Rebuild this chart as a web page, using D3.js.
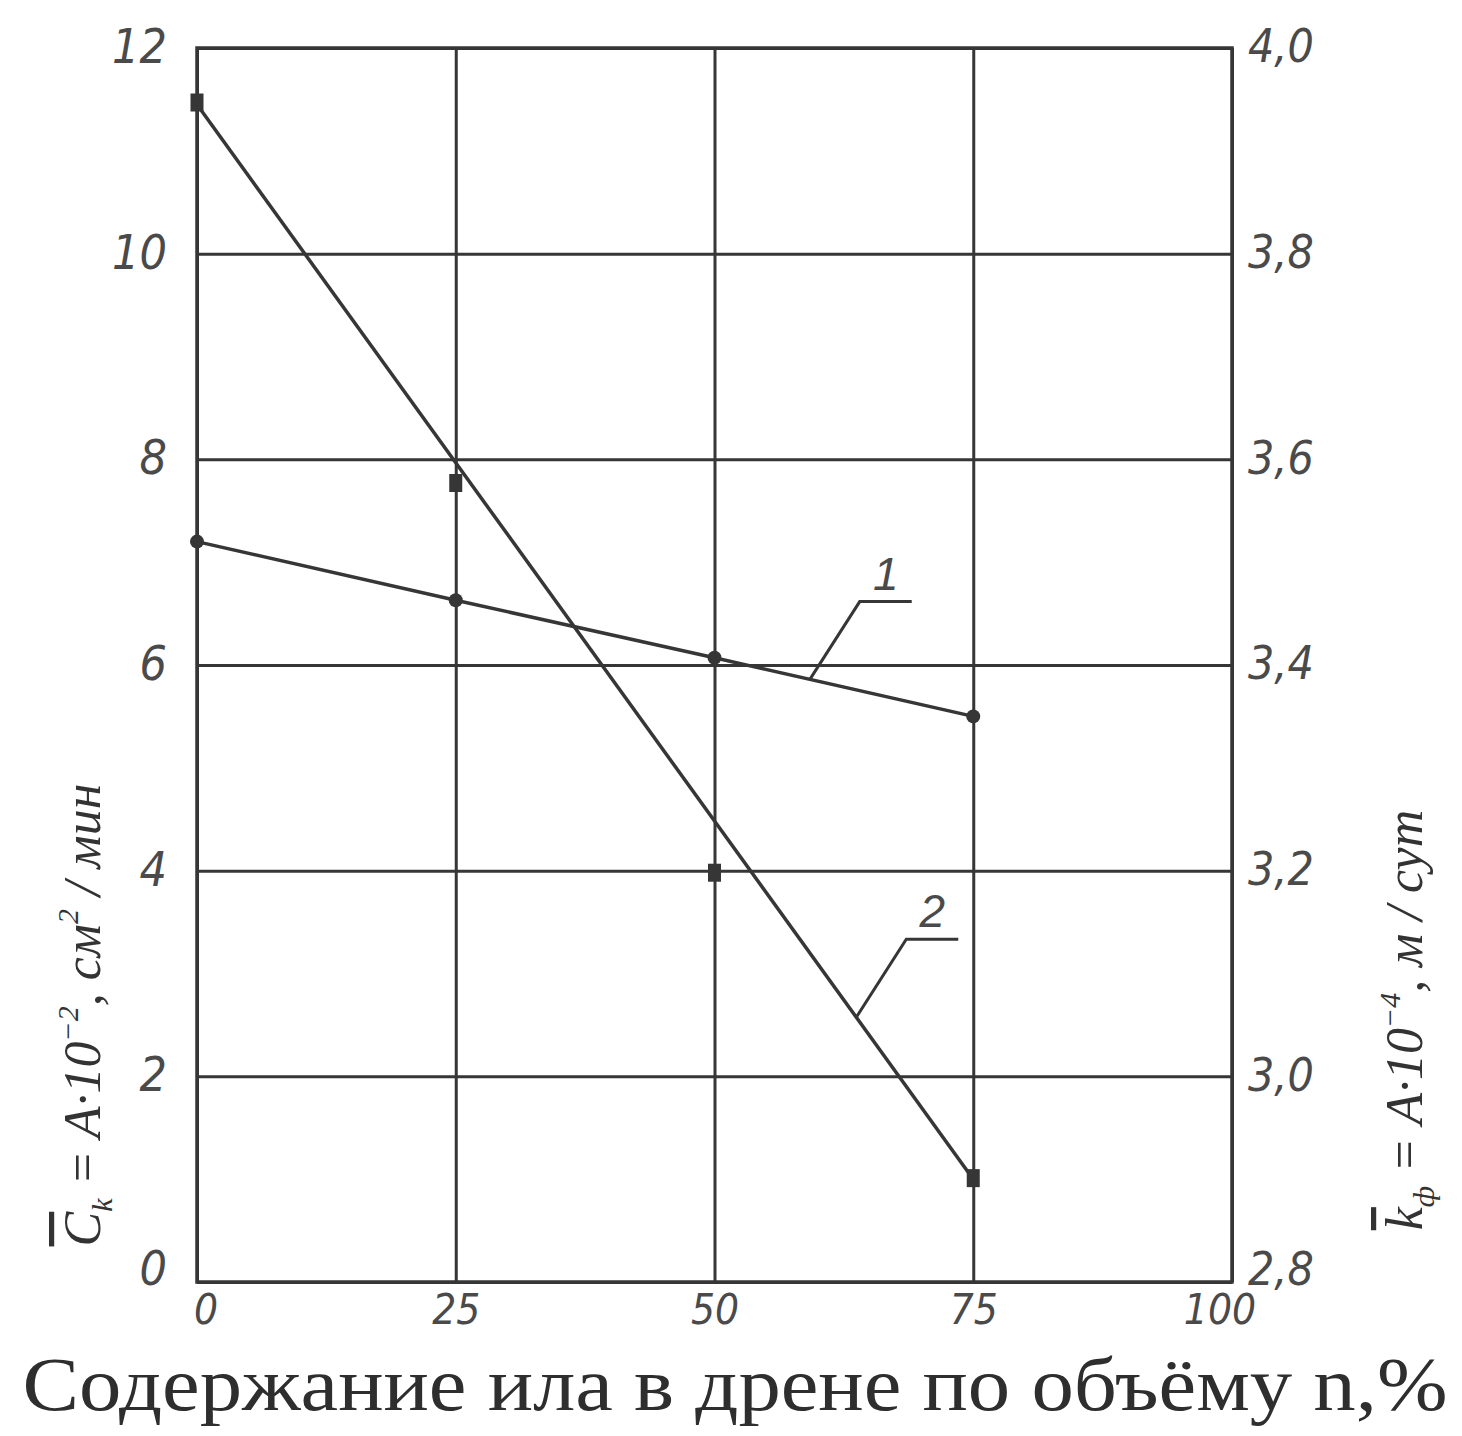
<!DOCTYPE html>
<html>
<head>
<meta charset="utf-8">
<script src="https://cdn.jsdelivr.net/npm/d3@7"></script>
<style>
  body { margin: 0; background: #fff; }
  .tick text { font-family: "Liberation Sans Narrow", "DejaVu Sans Condensed", sans-serif; font-style: italic; fill: #4a4a4a; }
</style>
</head>
<body>
<svg id="chart" width="1462" height="1436"></svg>
<script>
// data
var nValues = [0, 25, 50, 75];
var kfValues = [3.52, 3.463, 3.407, 3.35];      // curve 1, right axis
var ckValues = [11.47, 7.77, 3.98, 1.01];       // curve 2, left axis
var ckFit = [11.45, 1.0];                       // fitted line of curve 2 (n = 0 and 75)
var xTicks = [0, 25, 50, 75, 100];
var leftTicks = [0, 2, 4, 6, 8, 10, 12];
var rightTicks = [2.8, 3.0, 3.2, 3.4, 3.6, 3.8, 4.0];

var svg = d3.select("#chart");
var ink = "#363636";

var x = d3.scaleLinear().domain([0, 100]).range([197, 1232]);
var yL = d3.scaleLinear().domain([0, 12]).range([1282, 48]);
var yR = d3.scaleLinear().domain([2.8, 4.0]).range([1282, 48]);

var w = x(100) - x(0), h = yL(0) - yL(12);
var comma = function(d) { return d3.format(".1f")(d).replace(".", ","); };

// grid + left axis
var gl = svg.append("g").attr("transform", "translate(" + x(0) + ",0)")
	.call(d3.axisLeft(yL).tickValues(leftTicks).tickSizeInner(-w).tickSizeOuter(0).tickPadding(30));
gl.select(".domain").remove();
gl.selectAll("line").attr("stroke", ink).attr("stroke-width", 3);
gl.selectAll("text").attr("font-size", 48).attr("dy", function(d) { return d === 0 ? "0.05em" : "0.3em"; });

// right axis labels only
var gr = svg.append("g").attr("transform", "translate(" + x(100) + ",0)")
	.call(d3.axisRight(yR).tickValues(rightTicks).tickFormat(comma).tickSize(0).tickPadding(16));
gr.select(".domain").remove();
gr.selectAll("text").attr("font-size", 46).attr("dy", function(d) { return d === 2.8 ? "0.05em" : "0.3em"; });

// vertical grid + bottom axis
var gb = svg.append("g").attr("transform", "translate(0," + yL(0) + ")")
	.call(d3.axisBottom(x).tickValues(xTicks).tickSizeInner(-h).tickSizeOuter(0).tickPadding(12));
gb.select(".domain").remove();
gb.selectAll("line").attr("stroke", ink).attr("stroke-width", 3);
gb.selectAll("text").attr("font-size", 42)
	.attr("dx", function(d) { return d === 0 ? "0.2em" : (d === 100 ? "-0.3em" : "0"); });

// frame
svg.append("rect")
	.attr("x", x(0)).attr("y", yL(12)).attr("width", w).attr("height", h)
	.attr("fill", "none").attr("stroke", ink).attr("stroke-width", 3.5);

// curve 1 (k_ф)
var line1 = d3.line().x(function(d, i) { return x(nValues[i]); }).y(function(d) { return yR(d); });
svg.append("path").datum(kfValues).attr("d", line1)
	.attr("fill", "none").attr("stroke", ink).attr("stroke-width", 3.5);
svg.selectAll(".pt1").data(kfValues).enter().append("circle")
	.attr("cx", function(d, i) { return x(nValues[i]); })
	.attr("cy", function(d) { return yR(d); })
	.attr("r", 7).attr("fill", ink);

// curve 2 (C_k): fitted straight line and measured points
svg.append("line")
	.attr("x1", x(nValues[0])).attr("y1", yL(ckFit[0]))
	.attr("x2", x(nValues[3])).attr("y2", yL(ckFit[1]))
	.attr("stroke", ink).attr("stroke-width", 3.5);
svg.selectAll(".pt2").data(ckValues).enter().append("rect")
	.attr("x", function(d, i) { return x(nValues[i]) - 6.5; })
	.attr("y", function(d) { return yL(d) - 9; })
	.attr("width", 13).attr("height", 18).attr("fill", ink);

// callouts
function callout(px, py, label) {
	var g = svg.append("g");
	g.append("path")
		.attr("d", "M" + px + "," + py + "L" + (px + 50) + "," + (py - 78) + "h" + 52)
		.attr("fill", "none").attr("stroke", ink).attr("stroke-width", 3);
	g.append("text").attr("x", px + 76).attr("y", py - 90)
		.attr("text-anchor", "middle").attr("font-size", 46)
		.attr("font-family", "Liberation Sans Narrow, sans-serif").attr("font-style", "italic")
		.attr("fill", "#4a4a4a").text(label);
}
var n1 = 59.2, n2 = 63.7;
callout(x(n1), yR(kfValues[0] + (kfValues[3] - kfValues[0]) * n1 / 75), "1");
callout(x(n2), yL(ckFit[0] + (ckFit[1] - ckFit[0]) * n2 / 75), "2");

// left axis title
var lt = svg.append("text")
	.attr("transform", "translate(100,1015) rotate(-90)")
	.attr("text-anchor", "middle")
	.attr("font-family", "Liberation Serif, serif").attr("font-style", "italic")
	.attr("font-size", 52).attr("fill", "#333");
lt.append("tspan").attr("text-decoration", "overline").text("C");
lt.append("tspan").attr("font-size", 30).attr("dy", 12).text("k");
lt.append("tspan").attr("dy", -12).text(" = A·10");
lt.append("tspan").attr("font-size", 30).attr("dy", -22).text("−2");
lt.append("tspan").attr("dy", 22).text(", см");
lt.append("tspan").attr("font-size", 30).attr("dy", -22).text("2");
lt.append("tspan").attr("dy", 22).text(" / мин");

// right axis title
var rt = svg.append("text")
	.attr("transform", "translate(1422,1020) rotate(-90)")
	.attr("text-anchor", "middle")
	.attr("font-family", "Liberation Serif, serif").attr("font-style", "italic")
	.attr("font-size", 52).attr("fill", "#333");
rt.append("tspan").attr("text-decoration", "overline").text("k");
rt.append("tspan").attr("font-size", 30).attr("dy", 12).text("ф");
rt.append("tspan").attr("dy", -12).text(" = A·10");
rt.append("tspan").attr("font-size", 30).attr("dy", -22).text("−4");
rt.append("tspan").attr("dy", 22).text(", м / сут");

// x axis title
svg.append("text")
	.attr("x", 735).attr("y", 1410)
	.attr("text-anchor", "middle")
	.attr("font-family", "Liberation Serif, serif")
	.attr("font-size", 76).attr("fill", "#2e2e2e")
	.attr("textLength", 1425).attr("lengthAdjust", "spacingAndGlyphs")
	.text("Содержание ила в дрене по объёму n,%");
</script>
</body>
</html>
